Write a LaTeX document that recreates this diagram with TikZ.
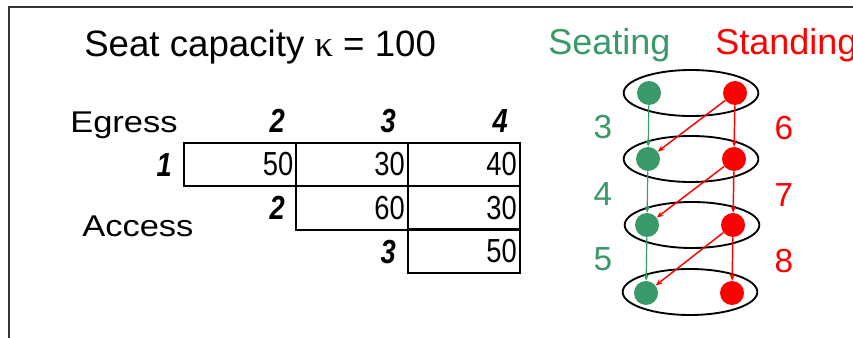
\documentclass[tikz,border=0pt]{standalone}
\usepackage{fontspec}
\usepackage{tikz}
\usepackage{xcolor}
\usetikzlibrary{positioning,arrows.meta,shapes.geometric}
\setmainfont{Liberation Sans}
\newfontfamily\greekfont{Liberation Serif}
\newfontfamily\widefont{Liberation Sans}[FakeStretch=1.15]
\newfontfamily\narrowfont{Liberation Sans}[FakeStretch=0.82]
\definecolor{seatgreen}{HTML}{3A9968}
\definecolor{standred}{HTML}{FF0000}
\definecolor{framegrey}{HTML}{333333}
\tikzset{
  frame/.style  ={draw=framegrey, line width=1.1pt},
  title/.style  ={anchor=base west, inner sep=0pt, font=\fontsize{27.5}{31}\selectfont},
  side/.style   ={anchor=base west, inner sep=0pt, font=\widefont\fontsize{22.5}{26}\selectfont},
  hdr/.style    ={anchor=base east, inner sep=0pt,
                  font=\narrowfont\bfseries\itshape\fontsize{25}{29}\selectfont},
  cell/.style   ={draw, line width=1.5pt, minimum width=84pt, minimum height=32.5pt,
                  inner sep=0pt, text width=80pt, align=right,
                  font=\narrowfont\fontsize{25}{29}\selectfont},
  kind/.style   ={anchor=base west, inner sep=0pt, font=\fontsize{27}{31}\selectfont},
  ring/.style   ={ellipse, draw, line width=1.4pt, minimum width=101pt,
                  minimum height=34.5pt, inner sep=0pt},
  dot/.style    ={circle, minimum size=18pt, inner sep=0pt},
  seat/.style   ={dot, fill=seatgreen},
  stand/.style  ={dot, fill=standred},
  link/.style   ={-{Stealth[length=5pt,width=4pt]}, line width=0.9pt},
  num/.style    ={inner sep=0pt, font=\fontsize{25}{29}\selectfont},
}

\begin{document}
\begin{tikzpicture}[x=0.75pt, y=-0.75pt]
  \useasboundingbox (0,0) rectangle (853,338);
  \draw[frame] (9,338) |- (853,7);

  % capacity and od table
  \node[title] (cap) at (84,57) {Seat capacity {\greekfont κ} = 100};
  \node[side] (egress) at (70,133) {Egress};
  \node[side] (access) at (82,237) {Access};

  \node[hdr] (h2) at (285,133) {2};
  \node[hdr] (h3) at (396,133) {3};
  \node[hdr] (h4) at (508,133) {4};
  \node[hdr] (r1) at (172,177) {1};
  \node[hdr] (r2) at (285,220) {2};
  \node[hdr] (r3) at (396,264) {3};

  \node[cell] (c12) at (240,164.5) {50};
  \node[cell] (c13) at (351.5,164.5) {30};
  \node[cell] (c14) at (463.5,164.5) {40};
  \node[cell] (c23) at (351.5,208) {60};
  \node[cell] (c24) at (463.5,208) {30};
  \node[cell] (c34) at (463.5,251) {50};

  % seating / standing chain
  \node[kind, text=seatgreen] (seating) at (548,55) {Seating};
  \node[kind, text=standred] (standing) at (715,55) {Standing};

  \node[ring] (e1) at (691,93) {};
  \node[ring] (e2) at (691,159) {};
  \node[ring] (e3) at (692,225) {};
  \node[ring] (e4) at (690,292) {};

  \node[seat] (s1) at (649,93) {};
  \node[seat] (s2) at (648,159) {};
  \node[seat] (s3) at (647,225) {};
  \node[seat] (s4) at (646,293) {};
  \node[stand] (t1) at (735,93) {};
  \node[stand] (t2) at (734,159) {};
  \node[stand] (t3) at (733,225) {};
  \node[stand] (t4) at (732,293) {};

  \foreach \a/\b in {1/2,2/3,3/4}{
    \draw[link, seatgreen] (s\a) -- (s\b);
    \draw[link, standred, line width=1.1pt] (t\a) -- (t\b);
    \draw[link, standred, line width=1.1pt] (t\a) -- (s\b);
  }

  \node[num, text=seatgreen] (n3) at (603,127) {3};
  \node[num, text=seatgreen] (n4) at (603,194) {4};
  \node[num, text=seatgreen] (n5) at (603,259) {5};
  \node[num, text=standred] (n6) at (784,128) {6};
  \node[num, text=standred] (n7) at (784,195) {7};
  \node[num, text=standred] (n8) at (784,261) {8};
\end{tikzpicture}
\end{document}
